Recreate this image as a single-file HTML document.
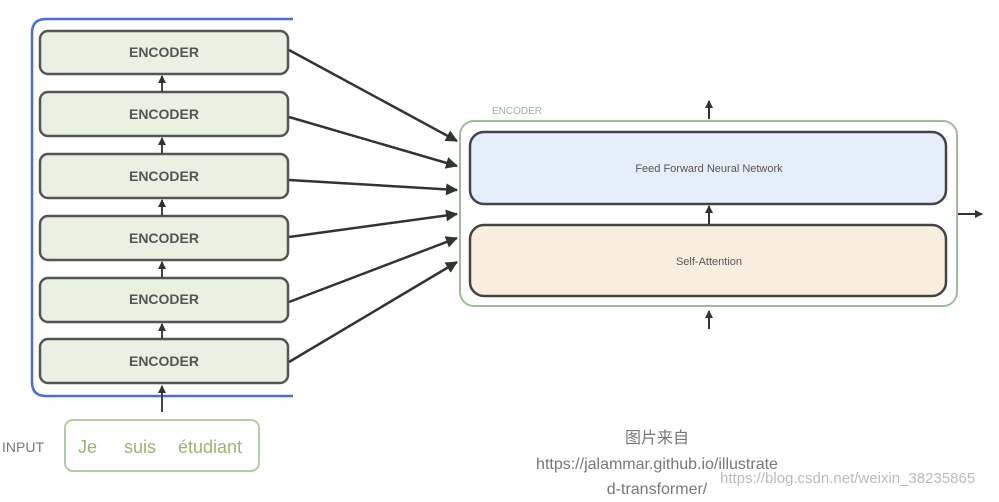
<!DOCTYPE html>
<html><head><meta charset="utf-8"><style>
body{margin:0;background:#fff;width:999px;height:497px;overflow:hidden;font-family:"Liberation Sans","Noto Sans CJK SC",sans-serif}
</style></head><body>
<svg width="999" height="497" xmlns="http://www.w3.org/2000/svg">
<defs><marker id="a" markerWidth="8" markerHeight="8" refX="7" refY="4" orient="auto" markerUnits="userSpaceOnUse"><path d="M0,0 L8,4 L0,8z" fill="#333"/></marker>
<marker id="b" markerWidth="12" markerHeight="12" refX="11" refY="6" orient="auto" markerUnits="userSpaceOnUse"><path d="M0,0 L12,6 L0,12z" fill="#333"/></marker></defs>
<path d="M293,19 H46 Q32,19 32,33 V382 Q32,396 46,396 H293" fill="none" stroke="#4a6fd6" stroke-width="2.5"/>
<g font-size="14" fill="#555" text-anchor="middle" font-weight="bold">
<rect x="40" y="31" width="248" height="43" rx="8" fill="#eaf0e2" stroke="#555" stroke-width="2.5"/><text x="164" y="57">ENCODER</text>
<rect x="40" y="92" width="248" height="44" rx="8" fill="#eaf0e2" stroke="#555" stroke-width="2.5"/><text x="164" y="119">ENCODER</text>
<rect x="40" y="154" width="248" height="44" rx="8" fill="#eaf0e2" stroke="#555" stroke-width="2.5"/><text x="164" y="181">ENCODER</text>
<rect x="40" y="216" width="248" height="44" rx="8" fill="#eaf0e2" stroke="#555" stroke-width="2.5"/><text x="164" y="243">ENCODER</text>
<rect x="40" y="278" width="248" height="44" rx="8" fill="#eaf0e2" stroke="#555" stroke-width="2.5"/><text x="164" y="304">ENCODER</text>
<rect x="40" y="339" width="248" height="44" rx="8" fill="#eaf0e2" stroke="#555" stroke-width="2.5"/><text x="164" y="366">ENCODER</text>
</g>
<g stroke="#444" stroke-width="2" marker-end="url(#a)">
<line x1="162" y1="92" x2="162" y2="76"/><line x1="162" y1="154" x2="162" y2="138"/><line x1="162" y1="216" x2="162" y2="200"/><line x1="162" y1="278" x2="162" y2="262"/><line x1="162" y1="339" x2="162" y2="324"/><line x1="162" y1="412" x2="162" y2="386"/>
</g>
<g stroke="#333" stroke-width="2.5" marker-end="url(#b)">
<line x1="289" y1="50" x2="457" y2="141"/><line x1="289" y1="117" x2="457" y2="166"/><line x1="289" y1="180" x2="457" y2="190"/><line x1="289" y1="237" x2="457" y2="214"/><line x1="289" y1="302" x2="457" y2="238"/><line x1="289" y1="362" x2="457" y2="262"/>
</g>
<text x="492" y="114" font-size="10" fill="#9ab59a">ENCODER</text>
<rect x="460" y="121" width="497" height="185" rx="14" fill="#fff" stroke="#9cbf98" stroke-width="2"/>
<rect x="470" y="132" width="476" height="72" rx="14" fill="#e5effb" stroke="#444" stroke-width="2.5"/>
<text x="709" y="172" font-size="11" fill="#555" text-anchor="middle">Feed Forward Neural Network</text>
<rect x="470" y="225" width="476" height="71" rx="14" fill="#f8eee0" stroke="#444" stroke-width="2.5"/>
<text x="709" y="265" font-size="11" fill="#555" text-anchor="middle">Self-Attention</text>
<g stroke="#333" stroke-width="2" marker-end="url(#a)">
<line x1="709" y1="119" x2="709" y2="101"/><line x1="709" y1="224" x2="709" y2="206"/><line x1="709" y1="329" x2="709" y2="311"/><line x1="958" y1="214" x2="982" y2="214"/>
</g>
<text x="2" y="452" font-size="14" fill="#777">INPUT</text>
<rect x="65" y="420" width="194" height="51" rx="8" fill="#fff" stroke="#b5cba5" stroke-width="2"/>
<g font-size="18" fill="#9bb56e"><text x="78" y="453">Je</text><text x="124" y="453">suis</text><text x="178" y="453">étudiant</text></g>
<g fill="#777" text-anchor="middle" font-size="16">
<text x="657" y="443">图片来自</text>
<text x="657" y="469">https://jalammar.github.io/illustrate</text>
<text x="657" y="494">d-transformer/</text>
</g>
<text x="720" y="483" font-size="15" fill="#bbb">https://blog.csdn.net/weixin_38235865</text>
</svg>
</body></html>
